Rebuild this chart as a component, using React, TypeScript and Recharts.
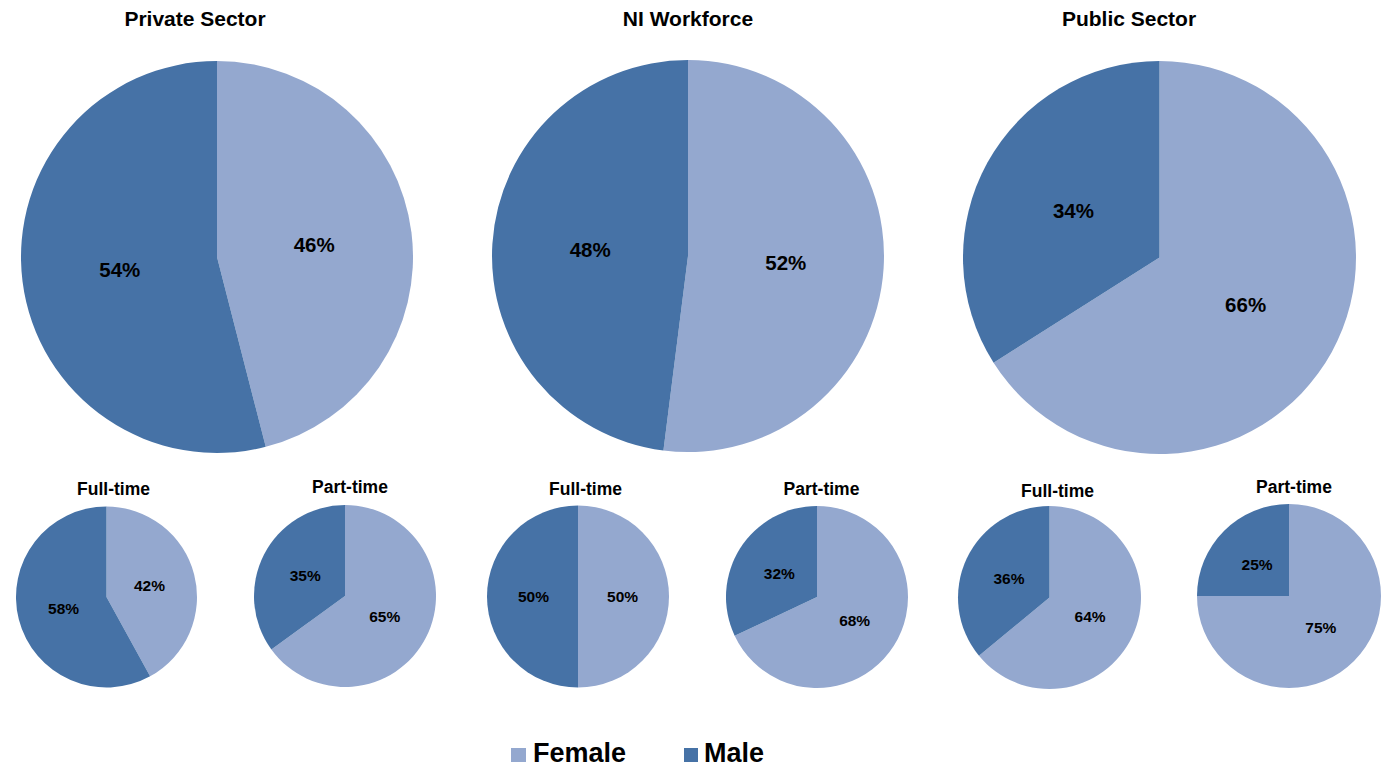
import React from "react";
import { PieChart, Pie, Cell } from "recharts";

const seriesNames = ["Female", "Male"];
const colors = ["#94A8CF", "#4672A6"];

const privateAll = [46, 54];
const niAll = [52, 48];
const publicAll = [66, 34];
const privateFT = [42, 58];
const privatePT = [65, 35];
const niFT = [50, 50];
const niPT = [68, 32];
const publicFT = [64, 36];
const publicPT = [75, 25];

const bigTitles = ["Private Sector", "NI Workforce", "Public Sector"];
const smallTitles = ["Full-time", "Part-time"];

const FONT = "'Liberation Sans', Arial, sans-serif";
const RAD = Math.PI / 180;

const toData = (vals: number[]) => vals.map((v, i) => ({ name: seriesNames[i], value: v }));

const makeLabel = (factor: number, size: number) => (props: any) => {
  const { cx, cy, midAngle, outerRadius, value } = props;
  const r = outerRadius * factor;
  const x = cx + r * Math.cos(-midAngle * RAD);
  const y = cy + r * Math.sin(-midAngle * RAD);
  return (
    <text
      x={x}
      y={y}
      textAnchor="middle"
      dominantBaseline="central"
      fontFamily={FONT}
      fontWeight="bold"
      fontSize={size}
      fill="#000"
    >
      {`${value}%`}
    </text>
  );
};

const bigLabel = makeLabel(0.5, 20.5);
const smallLabel = makeLabel(0.49, 15.5);

type PieSpec = { key: string; vals: number[]; cx: number; cy: number; r: number; big: boolean };

const pies: PieSpec[] = [
  { key: "pa", vals: privateAll, cx: 217, cy: 257, r: 196, big: true },
  { key: "na", vals: niAll, cx: 688, cy: 256, r: 196, big: true },
  { key: "ua", vals: publicAll, cx: 1159.5, cy: 257.5, r: 196.5, big: true },
  { key: "pf", vals: privateFT, cx: 106.5, cy: 597, r: 90.5, big: false },
  { key: "pp", vals: privatePT, cx: 345, cy: 596, r: 91, big: false },
  { key: "nf", vals: niFT, cx: 578, cy: 596.5, r: 91, big: false },
  { key: "np", vals: niPT, cx: 817, cy: 597, r: 91, big: false },
  { key: "uf", vals: publicFT, cx: 1049.5, cy: 597.5, r: 91.5, big: false },
  { key: "up", vals: publicPT, cx: 1289, cy: 596, r: 92, big: false },
];

const bigTitlePos = [
  { x: 195, y: 26 },
  { x: 688, y: 26 },
  { x: 1129, y: 26 },
];
const smallTitlePos = [
  { x: 113.5, y: 495, t: 0 },
  { x: 350, y: 493, t: 1 },
  { x: 585.5, y: 495, t: 0 },
  { x: 821.5, y: 495, t: 1 },
  { x: 1057.5, y: 497, t: 0 },
  { x: 1294, y: 493, t: 1 },
];

export default function App() {
  return (
    <div style={{ position: "absolute", left: 0, top: 0, width: 1385, height: 768, background: "#fff" }}>
      <PieChart width={1385} height={768} margin={{ top: 0, right: 0, bottom: 0, left: 0 }}>
        {pies.map((p) => (
          <Pie
            key={p.key}
            data={toData(p.vals)}
            dataKey="value"
            nameKey="name"
            cx={p.cx}
            cy={p.cy}
            outerRadius={p.r}
            innerRadius={0}
            startAngle={90}
            endAngle={-270}
            stroke="none"
            isAnimationActive={false}
            labelLine={false}
            label={p.big ? bigLabel : smallLabel}
          >
            {p.vals.map((_, i) => (
              <Cell key={i} fill={colors[i]} stroke="none" />
            ))}
          </Pie>
        ))}
      </PieChart>
      <svg
        width={1385}
        height={768}
        style={{ position: "absolute", left: 0, top: 0, pointerEvents: "none" }}
      >
        {bigTitles.map((t, i) => (
          <text
            key={t}
            x={bigTitlePos[i].x}
            y={bigTitlePos[i].y}
            textAnchor="middle"
            fontFamily={FONT}
            fontWeight="bold"
            fontSize={21}
            fill="#000"
          >
            {t}
          </text>
        ))}
        {smallTitlePos.map((s, i) => (
          <text
            key={i}
            x={s.x}
            y={s.y}
            textAnchor="middle"
            fontFamily={FONT}
            fontWeight="bold"
            fontSize={17.5}
            fill="#000"
          >
            {smallTitles[s.t]}
          </text>
        ))}
        <rect x={511} y={748} width={15} height={14} fill={colors[0]} />
        <text x={533} y={762} fontFamily={FONT} fontWeight="bold" fontSize={27} fill="#000">
          {seriesNames[0]}
        </text>
        <rect x={684} y={748} width={14} height={14} fill={colors[1]} />
        <text x={704} y={762} fontFamily={FONT} fontWeight="bold" fontSize={27} fill="#000">
          {seriesNames[1]}
        </text>
      </svg>
    </div>
  );
}
